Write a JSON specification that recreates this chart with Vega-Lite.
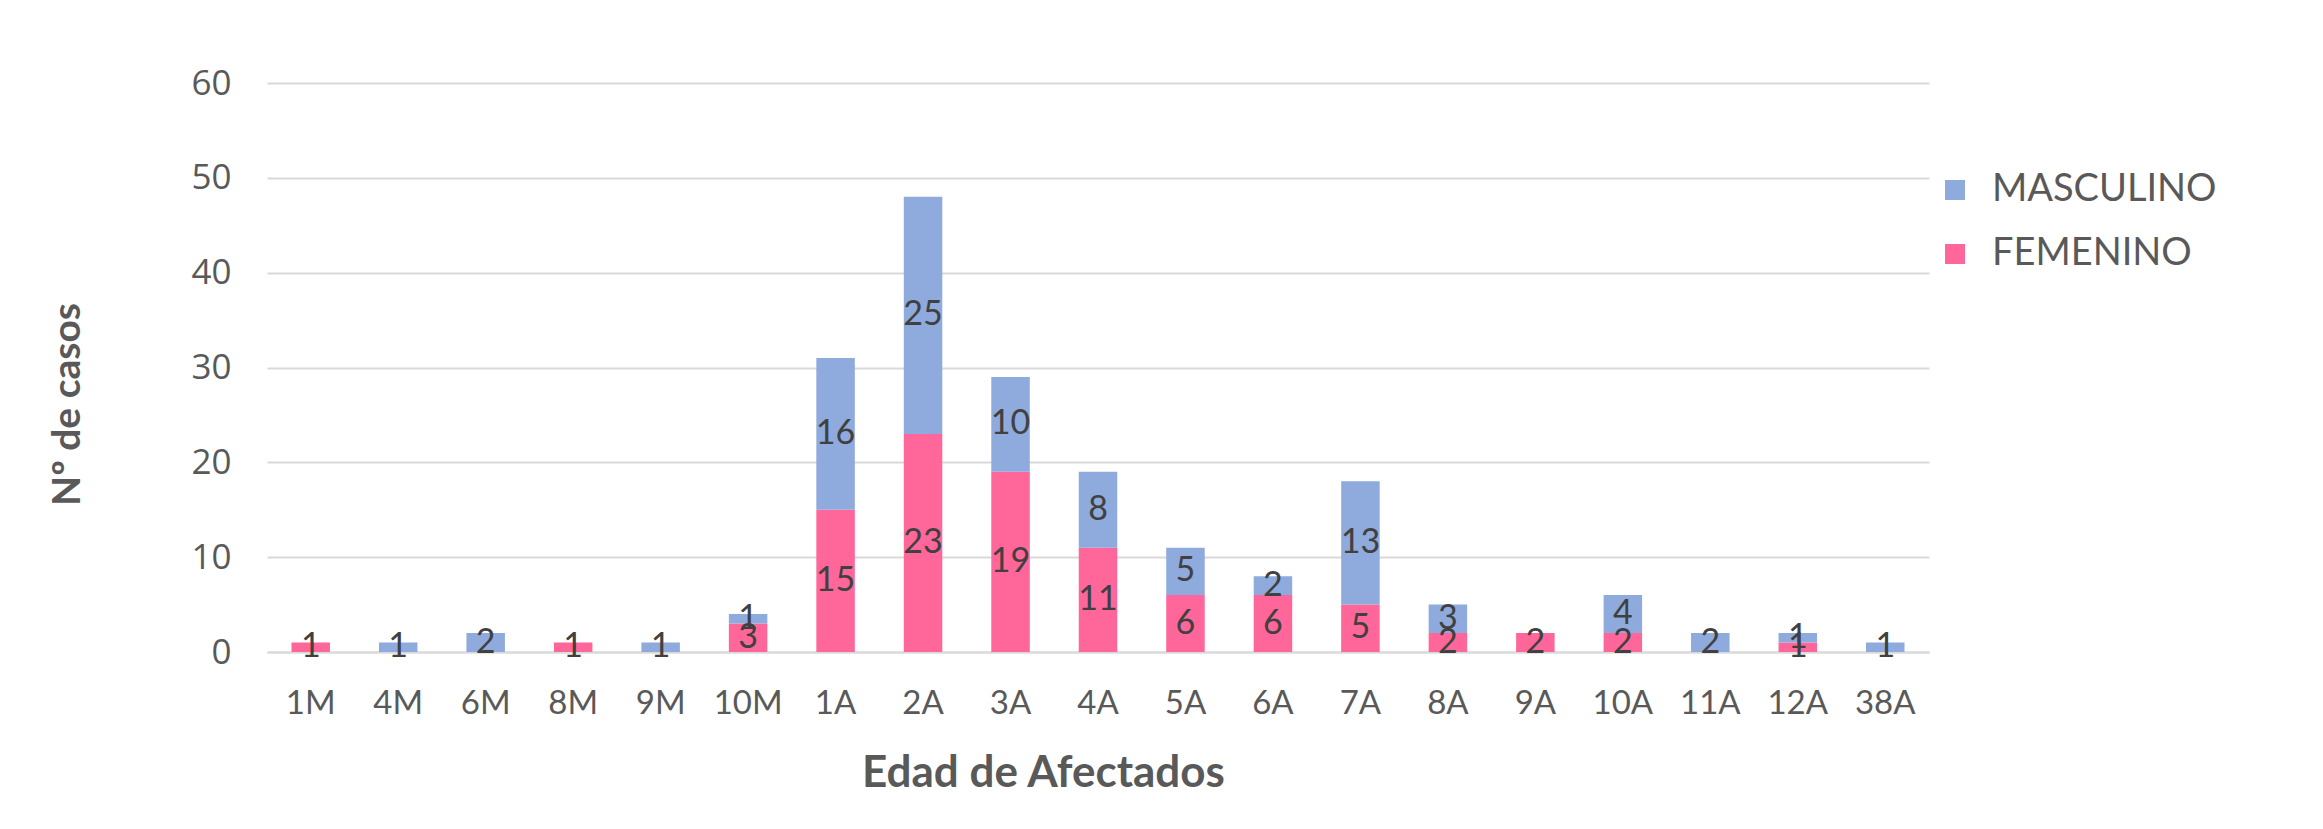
{
  "$schema": "https://vega.github.io/schema/vega-lite/v6.json",
  "autosize": {"type": "none"},
  "width": 1662,
  "height": 569,
  "padding": {"left": 267, "top": 83, "right": 394, "bottom": 177},
  "background": "white",
  "config": {
    "view": {"stroke": null},
    "font": "Lato",
    "axis": {"labelFont": "Lato", "titleFont": "Lato"},
    "legend": {"labelFont": "Lato"}
  },
  "data": {
    "values": [
      {"edad": "1M", "sexo": "FEMENINO", "casos": 1},
      {"edad": "4M", "sexo": "MASCULINO", "casos": 1},
      {"edad": "6M", "sexo": "MASCULINO", "casos": 2},
      {"edad": "8M", "sexo": "FEMENINO", "casos": 1},
      {"edad": "9M", "sexo": "MASCULINO", "casos": 1},
      {"edad": "10M", "sexo": "FEMENINO", "casos": 3},
      {"edad": "10M", "sexo": "MASCULINO", "casos": 1},
      {"edad": "1A", "sexo": "FEMENINO", "casos": 15},
      {"edad": "1A", "sexo": "MASCULINO", "casos": 16},
      {"edad": "2A", "sexo": "FEMENINO", "casos": 23},
      {"edad": "2A", "sexo": "MASCULINO", "casos": 25},
      {"edad": "3A", "sexo": "FEMENINO", "casos": 19},
      {"edad": "3A", "sexo": "MASCULINO", "casos": 10},
      {"edad": "4A", "sexo": "FEMENINO", "casos": 11},
      {"edad": "4A", "sexo": "MASCULINO", "casos": 8},
      {"edad": "5A", "sexo": "FEMENINO", "casos": 6},
      {"edad": "5A", "sexo": "MASCULINO", "casos": 5},
      {"edad": "6A", "sexo": "FEMENINO", "casos": 6},
      {"edad": "6A", "sexo": "MASCULINO", "casos": 2},
      {"edad": "7A", "sexo": "FEMENINO", "casos": 5},
      {"edad": "7A", "sexo": "MASCULINO", "casos": 13},
      {"edad": "8A", "sexo": "FEMENINO", "casos": 2},
      {"edad": "8A", "sexo": "MASCULINO", "casos": 3},
      {"edad": "9A", "sexo": "FEMENINO", "casos": 2},
      {"edad": "10A", "sexo": "FEMENINO", "casos": 2},
      {"edad": "10A", "sexo": "MASCULINO", "casos": 4},
      {"edad": "11A", "sexo": "MASCULINO", "casos": 2},
      {"edad": "12A", "sexo": "FEMENINO", "casos": 1},
      {"edad": "12A", "sexo": "MASCULINO", "casos": 1},
      {"edad": "38A", "sexo": "MASCULINO", "casos": 1}
    ]
  },
  "encoding": {
    "x": {
      "field": "edad",
      "type": "nominal",
      "sort": ["1M", "4M", "6M", "8M", "9M", "10M", "1A", "2A", "3A", "4A", "5A", "6A", "7A", "8A", "9A", "10A", "11A", "12A", "38A"],
      "scale": {"paddingInner": 0.56, "paddingOuter": 0.28},
      "axis": {
        "title": "Edad de Afectados",
        "titleFontSize": 44,
        "titleFontWeight": "bold",
        "titleColor": "#595959",
        "titleX": 776,
        "titleY": 121,
        "titleBaseline": "middle",
        "titleAnchor": null,
        "labelAngle": 0,
        "labelFontSize": 33,
        "labelColor": "#595959",
        "labelPadding": 35,
        "ticks": false,
        "domainColor": "#d9d9d9",
        "domainWidth": 2,
        "grid": false
      }
    },
    "y": {
      "field": "casos",
      "type": "quantitative",
      "stack": "zero",
      "scale": {"domain": [0, 60]},
      "axis": {
        "title": "Nº de casos",
        "titleFontSize": 39,
        "titleFontWeight": "bold",
        "titleColor": "#595959",
        "titleAngle": -90,
        "titleX": -180,
        "titleY": 321,
        "titleAlign": "center",
        "titleBaseline": "bottom",
        "titleAnchor": null,
        "values": [0, 10, 20, 30, 40, 50, 60],
        "labelFont": "Open Sans",
        "labelFontSize": 35,
        "labelColor": "#595959",
        "labelPadding": 36,
        "ticks": false,
        "domain": false,
        "gridColor": "#d9d9d9",
        "gridWidth": 2
      }
    },
    "order": {"field": "sexo", "sort": "ascending"}
  },
  "layer": [
    {
      "mark": {"type": "bar"},
      "encoding": {
        "color": {
          "field": "sexo",
          "type": "nominal",
          "scale": {"domain": ["MASCULINO", "FEMENINO"], "range": ["#8FAADC", "#FF6699"]},
          "legend": {
            "title": null,
            "orient": "none",
            "legendX": 1669,
            "legendY": 88,
            "symbolType": "square",
            "symbolSize": 400,
            "symbolStrokeWidth": 0,
            "labelFontSize": 38,
            "labelLimit": 0,
            "labelColor": "#595959",
            "labelOffset": 18,
            "rowPadding": 26,
            "padding": 0
          }
        }
      }
    },
    {
      "mark": {"type": "text", "fontSize": 34, "color": "#404040", "baseline": "middle"},
      "encoding": {
        "y": {"field": "casos", "type": "quantitative", "stack": "zero", "bandPosition": 0.5},
        "text": {"field": "casos", "type": "quantitative"}
      }
    }
  ]
}
